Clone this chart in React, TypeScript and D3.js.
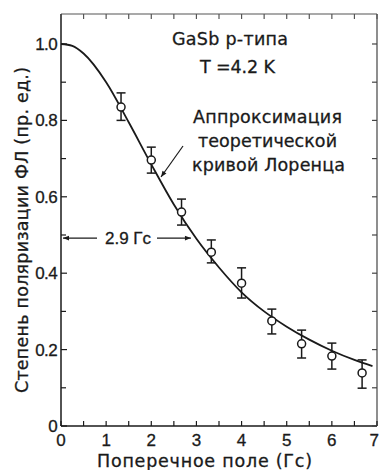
import React from "react";
import * as d3 from "d3";

const fieldPts = [1.33, 2.0, 2.67, 3.33, 4.0, 4.67, 5.33, 6.0, 6.67];
const polPts = [0.835, 0.696, 0.56, 0.455, 0.374, 0.275, 0.215, 0.183, 0.139];
const errHi = [0.872, 0.73, 0.594, 0.487, 0.414, 0.306, 0.251, 0.217, 0.173];
const errLo = [0.8, 0.662, 0.526, 0.427, 0.335, 0.241, 0.178, 0.149, 0.099];

const curveX = [0, 0.25, 0.5, 1.0, 1.5, 2.0, 2.5, 3.0, 3.5, 4.0, 4.5, 5.0, 5.5, 6.0, 6.5, 6.9];
const curveY = [1.0, 0.995, 0.975, 0.9, 0.795, 0.685, 0.58, 0.49, 0.415, 0.35, 0.3, 0.26, 0.226, 0.197, 0.173, 0.157];

const xTickLabels = ["0", "1", "2", "3", "4", "5", "6", "7"];
const yTickLabels = ["0", "0.2", "0.4", "0.6", "0.8", "1.0"];

const W = 379;
const H = 470;
const NUM_FONT = "'Liberation Sans', Arial, Helvetica, sans-serif";
const TXT_FONT = "'DejaVu Sans', 'Liberation Sans', Arial, sans-serif";
const INK = "#1a1a1a";

export default function App() {
  const x = d3.scaleLinear().domain([0, 7]).range([61, 377]);
  const y = d3.scaleLinear().domain([0, 1.0785]).range([426, 14]);
  const [x0, x1] = x.range();
  const [y0, y1] = y.range();

  const line = d3
    .line<number>()
    .x((_, i) => x(curveX[i]))
    .y((d) => y(d))
    .curve(d3.curveMonotoneX);

  const xMinor = d3.range(0, 7.01, 0.5);
  const yMinor = d3.range(0, 1.001, 0.1);

  const halfY = y(0.492);
  const halfX = x(2.9);

  const txt = { fill: INK, stroke: INK, strokeWidth: 0.3 } as const;
  const FS = 17.5;

  return (
    <svg
      width={W}
      height={H}
      style={{ position: "absolute", left: 0, top: 0, background: "#fff" }}
      fontFamily={NUM_FONT}
    >
      <defs>
        <marker id="ah" viewBox="0 0 10 10" refX="10" refY="5" markerWidth="7" markerHeight="5" orient="auto-start-reverse">
          <path d="M0,1 L10,5 L0,9 z" fill={INK} />
        </marker>
      </defs>
      {/* frame */}
      <line x1={x0} x2={x1} y1={y1} y2={y1} stroke="#555" strokeWidth={1.2} />
      <line x1={x1} x2={x1} y1={y1} y2={y0} stroke="#444" strokeWidth={1.2} />
      <line x1={x0} x2={x0} y1={y1} y2={y0} stroke={INK} strokeWidth={1.5} />
      <line x1={x0} x2={x1} y1={y0} y2={y0} stroke={INK} strokeWidth={1.5} />

      {/* x ticks bottom & top */}
      {xMinor.map((t) => (
        <g key={"xt" + t}>
          <line x1={x(t)} x2={x(t)} y1={y0} y2={y0 - 5} stroke={INK} strokeWidth={1.2} />
          <line x1={x(t)} x2={x(t)} y1={y1} y2={y1 + 5} stroke="#555" strokeWidth={1.2} />
        </g>
      ))}
      {/* y ticks left & right */}
      {yMinor.map((t, i) => (
        <g key={"yt" + i}>
          <line x1={x0} x2={x0 + (i % 2 === 0 ? 6 : 5)} y1={y(t)} y2={y(t)} stroke={INK} strokeWidth={1.2} />
          <line x1={x1} x2={x1 - 5} y1={y(t)} y2={y(t)} stroke="#444" strokeWidth={1.2} />
        </g>
      ))}

      {/* tick labels */}
      {xTickLabels.map((s, i) => (
        <text
          key={"xl" + s}
          x={i === xTickLabels.length - 1 ? W : x(+s)}
          y={446}
          fontSize={17}
          textAnchor={i === xTickLabels.length - 1 ? "end" : "middle"}
          {...txt}
        >
          {s}
        </text>
      ))}
      {yTickLabels.map((s) => (
        <text key={"yl" + s} x={57} y={y(+s) + 6} fontSize={17} textAnchor="end" letterSpacing={-0.6} {...txt}>
          {s}
        </text>
      ))}

      {/* axis titles */}
      <text x={97} y={467} fontSize={FS} fontFamily={TXT_FONT} textLength={215} lengthAdjust="spacing" {...txt}>
        Поперечное поле (Гс)
      </text>
      <text
        transform="translate(28,393) rotate(-90)"
        fontSize={FS}
        fontFamily={TXT_FONT}
        textLength={326}
        lengthAdjust="spacing"
        {...txt}
      >
        Степень поляризации ФЛ (пр. ед.)
      </text>

      {/* fitted curve */}
      <path d={line(curveY) || ""} fill="none" stroke={INK} strokeWidth={1.8} />

      {/* data with error bars */}
      {fieldPts.map((f, i) => (
        <g key={"p" + i} stroke={INK} strokeWidth={1.5}>
          <line x1={x(f)} x2={x(f)} y1={y(errLo[i])} y2={y(errHi[i])} />
          <line x1={x(f) - 4.5} x2={x(f) + 4.5} y1={y(errLo[i])} y2={y(errLo[i])} />
          <line x1={x(f) - 4.5} x2={x(f) + 4.5} y1={y(errHi[i])} y2={y(errHi[i])} />
          <circle cx={x(f)} cy={y(polPts[i])} r={4} fill="#fff" />
        </g>
      ))}

      {/* annotations */}
      <text x={172} y={45} fontSize={FS} fontFamily={TXT_FONT} textLength={116} lengthAdjust="spacing" {...txt}>
        GaSb p-типа
      </text>
      <text x={200} y={73} fontSize={FS} fontFamily={TXT_FONT} textLength={75} lengthAdjust="spacing" {...txt}>
        T =4.2 K
      </text>
      <text x={193} y={123} fontSize={FS} fontFamily={TXT_FONT} textLength={149} lengthAdjust="spacing" {...txt}>
        Аппроксимация
      </text>
      <text x={198} y={147} fontSize={FS} fontFamily={TXT_FONT} textLength={139} lengthAdjust="spacing" {...txt}>
        теоретической
      </text>
      <text x={192} y={171} fontSize={FS} fontFamily={TXT_FONT} textLength={153} lengthAdjust="spacing" {...txt}>
        кривой Лоренца
      </text>
      <line x1={183} y1={146} x2={161} y2={177} stroke={INK} strokeWidth={1.2} markerEnd="url(#ah)" />

      {/* half-width marker */}
      <line x1={97} y1={halfY} x2={x0 + 2} y2={halfY} stroke={INK} strokeWidth={1.2} markerEnd="url(#ah)" />
      <line x1={157} y1={halfY} x2={halfX - 1} y2={halfY} stroke={INK} strokeWidth={1.2} markerEnd="url(#ah)" />
      <text x={128} y={halfY + 6} fontSize={17} textAnchor="middle" {...txt}>
        2.9 Гс
      </text>
    </svg>
  );
}
